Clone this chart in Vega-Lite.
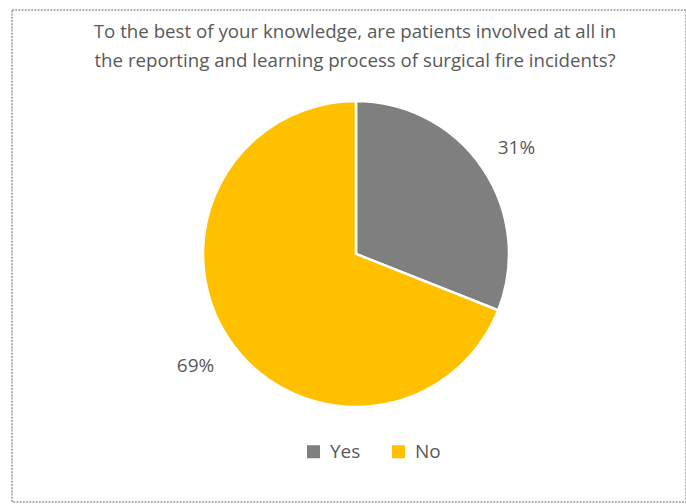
{
  "$schema": "https://vega.github.io/schema/vega-lite/v6.json",
  "autosize": {"type": "fit", "contains": "padding"},
  "width": 686,
  "height": 504,
  "padding": {"left": 12, "top": 10, "right": 0, "bottom": 2},
  "background": "white",
  "view": {"stroke": "#9a9a9a", "strokeWidth": 1.5, "strokeDash": [2, 1.2], "fill": "white"},
  "config": {
    "font": "Open Sans"
  },
  "title": {
    "text": ["To the best of your knowledge, are patients involved at all in", "the reporting and learning process of surgical fire incidents?"],
    "font": "Open Sans",
    "fontSize": 18.7,
    "fontWeight": "normal",
    "color": "#595959",
    "lineHeight": 29,
    "offset": -61,
    "dx": 6,
    "anchor": "middle"
  },
  "data": {
    "values": [
      {"answer": "Yes", "pct": 31, "label": "31%"},
      {"answer": "No", "pct": 69, "label": "69%"}
    ]
  },
  "encoding": {
    "theta": {"field": "pct", "type": "quantitative", "stack": true},
    "order": {"field": "answer", "sort": "descending"},
    "color": {
      "field": "answer",
      "type": "nominal",
      "scale": {"domain": ["Yes", "No"], "range": ["#7f7f7f", "#ffc000"]},
      "legend": {
        "title": null,
        "orient": "none",
        "direction": "horizontal",
        "legendX": 292,
        "legendY": 432,
        "symbolType": "square",
        "symbolSize": 170,
        "symbolStrokeWidth": 0,
        "labelFontSize": 19,
        "labelColor": "#595959",
        "labelFont": "Open Sans",
        "columnPadding": 28,
        "labelOffset": 7
      }
    }
  },
  "layer": [
    {
      "mark": {"type": "arc", "outerRadius": 153, "stroke": "white", "strokeWidth": 2.5, "xOffset": 7, "yOffset": -2}
    },
    {
      "mark": {"type": "text", "radius": 194, "fontSize": 19, "font": "Open Sans", "color": "#595959", "xOffset": 7, "yOffset": 1},
      "encoding": {
        "text": {"field": "label"},
        "color": {"value": "#595959"}
      }
    }
  ]
}
